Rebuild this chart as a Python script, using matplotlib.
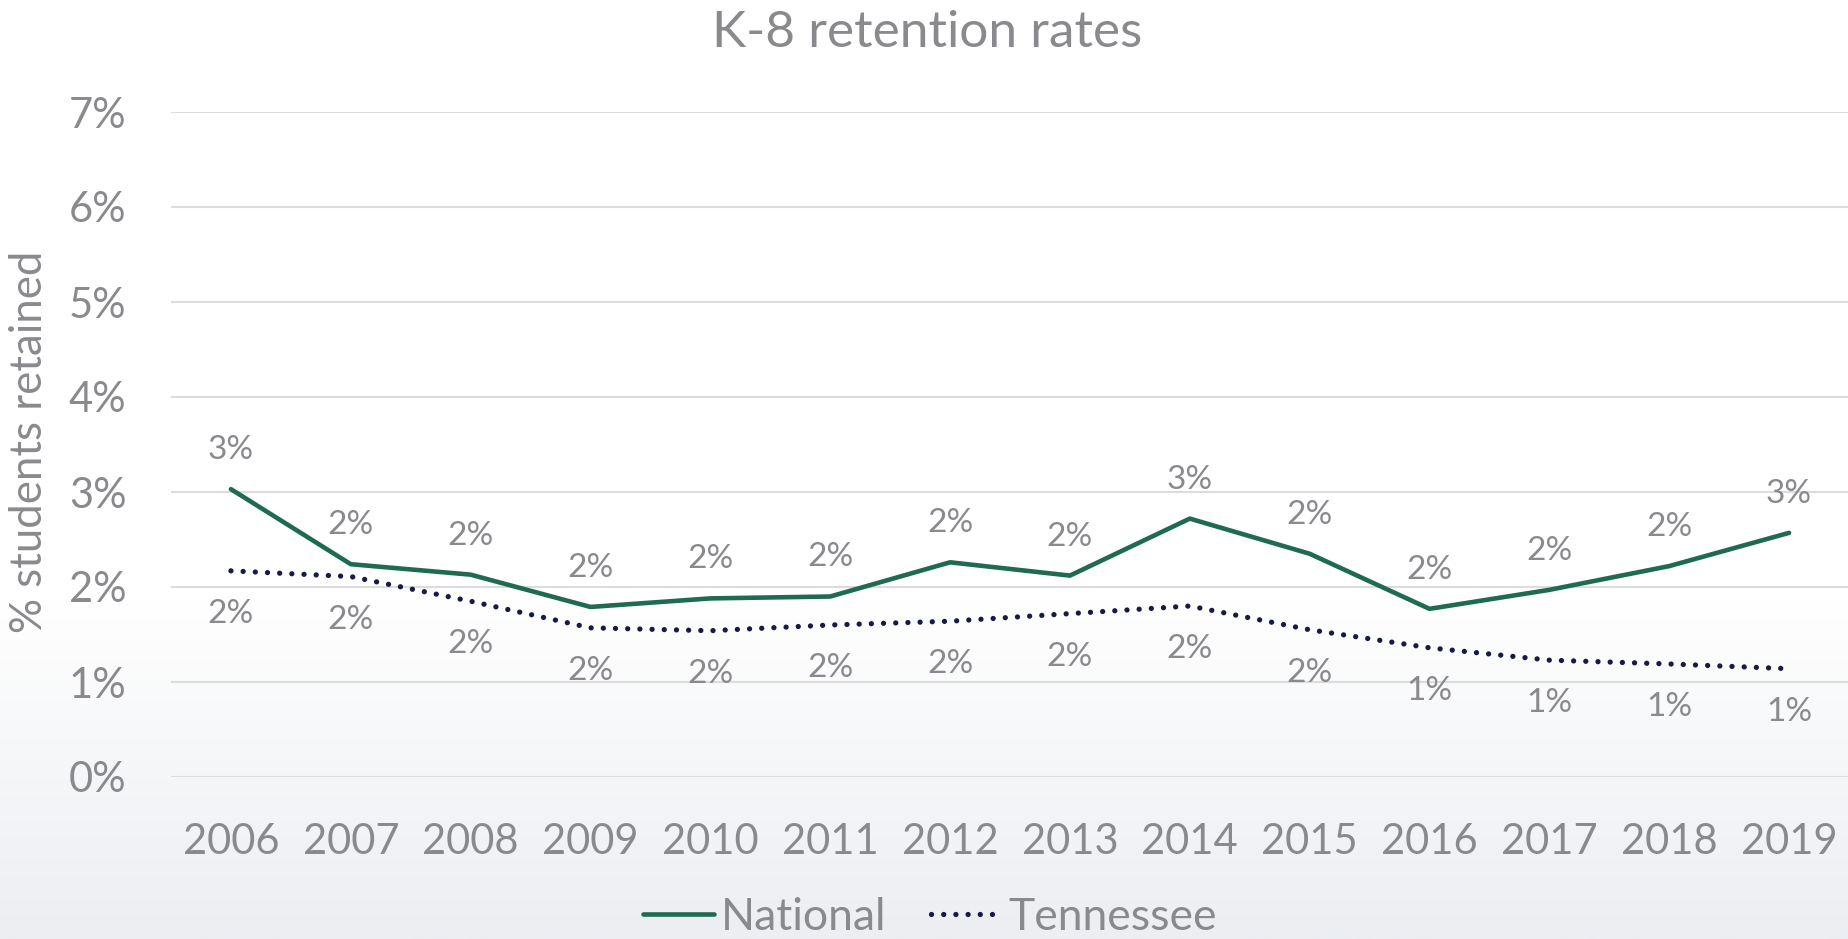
import matplotlib
matplotlib.use("Agg")
import matplotlib.pyplot as plt
import numpy as np
from matplotlib.colors import LinearSegmentedColormap

plt.rcParams['font.family'] = ['Lato', 'DejaVu Sans']

years = ["2006", "2007", "2008", "2009", "2010", "2011", "2012",
         "2013", "2014", "2015", "2016", "2017", "2018", "2019"]
national = [3.03, 2.24, 2.13, 1.79, 1.88, 1.90, 2.26, 2.12, 2.72, 2.35, 1.77, 1.97, 2.22, 2.57]
tennessee = [2.17, 2.11, 1.85, 1.57, 1.54, 1.60, 1.64, 1.72, 1.80, 1.55, 1.36, 1.23, 1.19, 1.14]
yticks = [0, 1, 2, 3, 4, 5, 6, 7]

TEXT = "#8a8a8e"
GREEN = "#1f6b50"
NAVY = "#161a45"

W, H = 1849, 939
fig = plt.figure(figsize=(W / 100, H / 100), dpi=100)

# background gradient
bg = fig.add_axes([0, 0, 1, 1], zorder=-10)
bg.axis("off")
ys = np.linspace(0, 1, 400)
start = 1 - 600 / H
vals = np.clip((start - ys) / start, 0, 1)[::-1]
cmap = LinearSegmentedColormap.from_list("g", ["#ffffff", "#eceef2"])
bg.imshow(vals[:, None], aspect="auto", cmap=cmap, extent=[0, 1, 0, 1], vmin=0, vmax=1)
bg.set_xlim(0, 1)
bg.set_ylim(0, 1)

left = 171 / W
bottom = 1 - 777 / H
top = 1 - 112 / H
ax = fig.add_axes([left, bottom, 1 - left, top - bottom])
ax.patch.set_alpha(0)

x = np.arange(len(years))
ax.plot(x, national, color=GREEN, lw=3.3, solid_capstyle="round", solid_joinstyle="round", zorder=3, label="National")
ax.plot(x, tennessee, color=NAVY, lw=3.8, linestyle=(0, (0.01, 2.3)), dash_capstyle="round", zorder=3, label="Tennessee")

for xi, v in zip(x, national):
    ax.annotate(f"{round(v):d}%", (xi, v), xytext=(0, 39), textcoords="offset pixels",
                ha="center", va="center", fontsize=24, color=TEXT)
for xi, v in zip(x, tennessee):
    ax.annotate(f"{round(v):d}%", (xi, v), xytext=(0, -43), textcoords="offset pixels",
                ha="center", va="center", fontsize=24, color=TEXT)

ax.set_xlim(-0.5, len(years) - 0.5)
ax.set_ylim(0, 7)
ax.set_yticks(yticks)
ax.set_yticklabels([f"{t}%" for t in yticks])
ax.set_xticks(x)
ax.set_xticklabels(years)
ax.grid(axis="y", color="#dcdcdc", lw=1.5)
ax.set_axisbelow(True)
for s in ax.spines.values():
    s.set_visible(False)
ax.tick_params(axis="both", length=0, labelsize=30, colors=TEXT)
ax.tick_params(axis="y", pad=32)
ax.tick_params(axis="x", pad=33)

fig.text(30 / W, 1 - 442 / H, "% students retained", rotation=90, ha="center", va="center",
         fontsize=31.5, color=TEXT)
fig.text(927 / W, 1 - 33 / H, "K-8 retention rates", ha="center", va="center",
         fontsize=37, color=TEXT)

leg = fig.legend(loc="center", bbox_to_anchor=(930 / W, 1 - 917 / H), ncol=2, frameon=False,
                 fontsize=32, labelcolor=TEXT, handlelength=1.6, handletextpad=0.15,
                 columnspacing=1.0)

fig.savefig("out.png", dpi=100)
